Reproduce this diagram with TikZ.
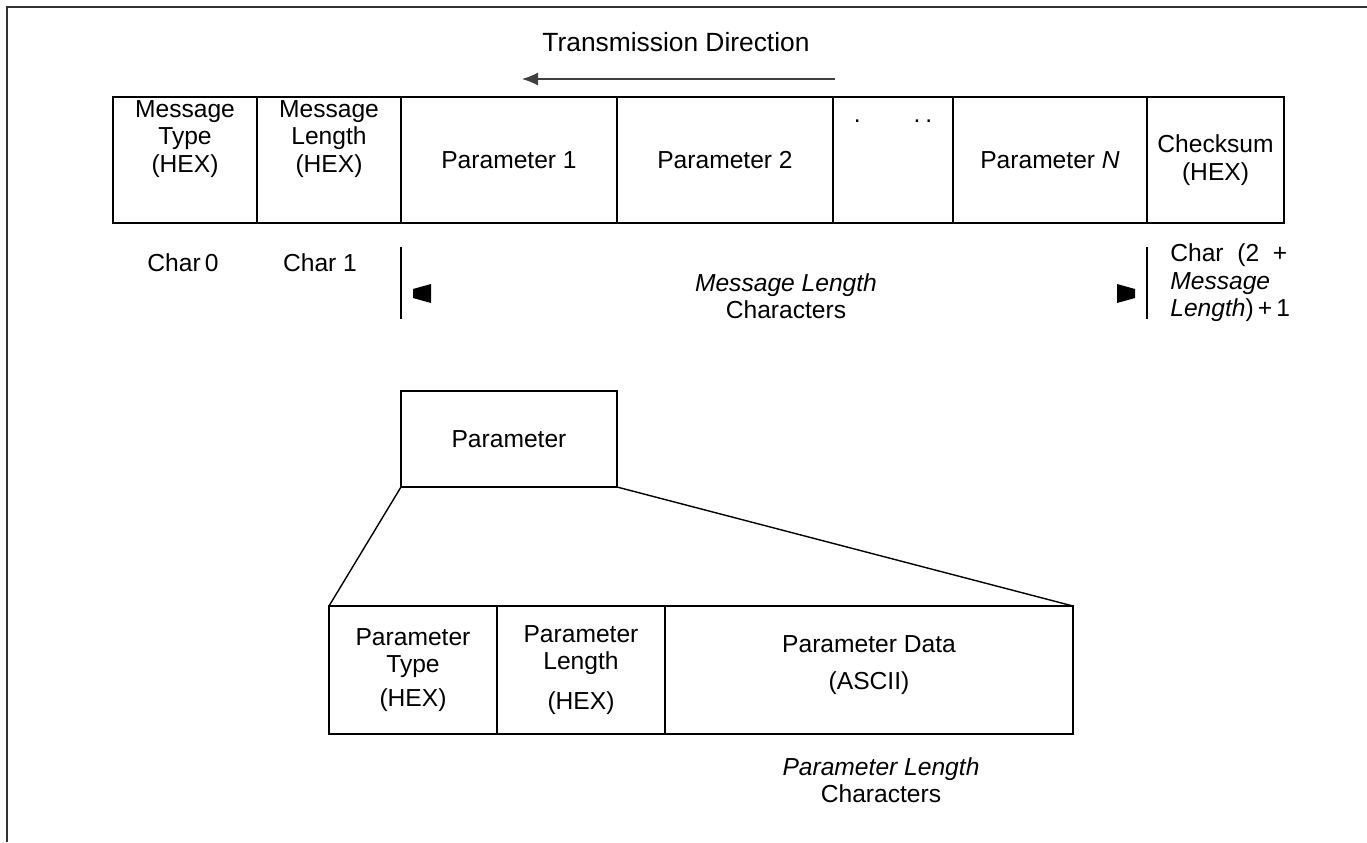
\documentclass[tikz,border=0pt]{standalone}
\usepackage{fontspec}
\setmainfont{Liberation Sans}
\usetikzlibrary{positioning,arrows.meta}

\tikzset{
  field/.style={draw, line width=1pt, inner sep=0pt, outer sep=0pt, align=center},
  topfield/.style={field, minimum height=25.2mm},
  subfield/.style={field, minimum height=25.6mm},
  txt/.style={inner sep=0pt, align=center},
  bar/.style={line width=0.8pt}
}

\begin{document}
\begin{tikzpicture}[x=0.2mm, y=-0.2mm, font=\fontsize{14}{15.6}\selectfont]
\useasboundingbox (0,0) rectangle (1367,842);
\draw [line width=1.4pt, black!80] (1367,7) -- (7,7) -- (7,842);

% direction of transmission
\node[txt, font=\fontsize{15}{17}\selectfont] (dirlabel) at (676,42) {Transmission Direction};
\coordinate (dirstart) at (835,79);
\coordinate (dirend) at (522,79);
\draw [-{Latex[length=3.2mm,width=2.6mm]}, line width=0.7pt, black!75] (dirstart) -- (dirend);

% message frame
\node[topfield, minimum width=28.8mm, anchor=north west] (mtype) at (113,97) {};
\node[topfield, minimum width=28.8mm, right=0pt of mtype] (mlen) {};
\node[topfield, minimum width=43.2mm, right=0pt of mlen] (par1) {Parameter 1};
\node[topfield, minimum width=43.2mm, right=0pt of par1] (par2) {Parameter 2};
\node[topfield, minimum width=24mm, right=0pt of par2] (dots) {};
\node[topfield, minimum width=38.8mm, right=0pt of dots] (parN) {Parameter \textit{N}};
\node[topfield, minimum width=27.4mm, right=0pt of parN] (chk) {Checksum\\(HEX)};

\node[txt, anchor=north] (mtypetxt) at ([yshift=-0.6mm]mtype.north) {Message\\Type\\(HEX)};
\node[txt, anchor=north] (mlentxt) at ([yshift=-0.6mm]mlen.north) {Message\\Length\\(HEX)};
\node[anchor=base] (dotstxt) at (893,122) {.\hspace{10.6mm}.\hspace{1mm}.};

% character counts
\node[txt] (char0) at (183,263) {Char\,0};
\node[txt] (char1) at (320,263) {Char 1};
\draw [bar] (par1.south west) ++(0,24) -- ++(0,72);
\draw [bar] (chk.south west) ++(0,24) -- ++(0,72);
\fill (413,289) -- (431,284) -- (431,303) -- (413,298) -- cycle;
\fill (1135,289) -- (1117,284) -- (1117,303) -- (1135,298) -- cycle;
\node[txt] (msglen) at (786,296) {\textit{Message Length}\\Characters};
\node[txt, anchor=west, align=left] (charlast) at (1170,283)
  {Char~~(2~~+\\\textit{Message}\\\textit{Length})\,+\,1};

% parameter layout
\node[field, minimum width=43.2mm, minimum height=19.2mm] (param) at (509,439) {Parameter};
\node[subfield, minimum width=33.6mm, anchor=north west] (ptype) at (329,606) {Parameter\\Type\\[1.2mm](HEX)};
\node[subfield, minimum width=33.6mm, right=0pt of ptype] (plen) {Parameter\\Length\\[2.6mm](HEX)};
\node[subfield, minimum width=81.6mm, right=0pt of plen] (pdata) {};
\node[txt] (pdatatxt) at (869,665) {Parameter Data\\[1.8mm](ASCII)};
\draw [line width=0.8pt] (param.south west) -- (ptype.north west);
\draw [line width=0.8pt] (param.south east) -- (pdata.north east);
\node[txt] (plenchars) at (881,780) {\textit{Parameter Length}\\Characters};
\end{tikzpicture}
\end{document}
